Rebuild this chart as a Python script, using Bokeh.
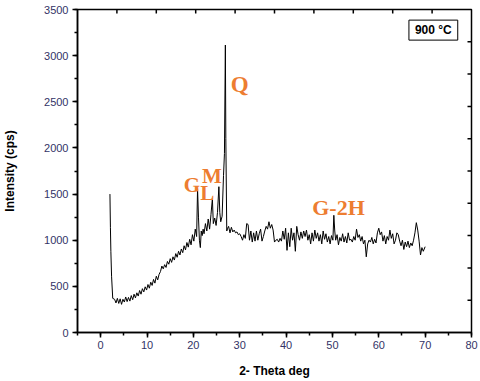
import math
from bokeh.plotting import figure
from bokeh.models import Range1d, SingleIntervalTicker, Label, ColumnDataSource
from bokeh.core.properties import value
from bokeh.embed import file_html
from bokeh.resources import INLINE

two_theta = [2.0, 2.1, 2.2, 2.35, 2.6,
    3.0, 3.3, 3.6, 3.9, 4.2, 4.5, 4.8, 5.1, 5.4, 5.7, 6.0, 6.3, 6.6, 6.9, 7.2, 7.5, 7.8, 8.1, 8.4, 8.7,
    9.0, 9.3, 9.6, 9.9, 10.2, 10.5, 10.8, 11.1, 11.4, 11.7, 12.0, 12.3, 12.6, 12.9, 13.2, 13.5, 13.8,
    14.1, 14.4, 14.7, 15.0, 15.3, 15.6, 15.9, 16.2, 16.5, 16.8, 17.1, 17.4, 17.7, 18.0, 18.3, 18.6,
    18.9, 19.2, 19.5, 19.8, 20.1, 20.4, 20.7, 20.9, 21.1, 21.3, 21.5, 21.7, 21.9, 22.1, 22.3, 22.6,
    22.9, 23.2, 23.5, 23.8, 24.1, 24.3, 24.6, 24.9, 25.2, 25.5, 25.7, 25.9, 26.2, 26.5, 26.7, 26.9,
    27.0, 27.2, 27.4, 27.6, 27.9, 28.2, 28.5, 28.8, 29.1, 29.4, 29.7, 30.0, 30.3, 30.6, 30.9, 31.2,
    31.5, 31.8, 32.1, 32.4, 32.7, 33.0, 33.3, 33.6, 33.9, 34.2, 34.5, 34.8, 35.1, 35.4, 35.7, 36.0,
    36.3, 36.6, 36.9, 37.2, 37.5, 37.8, 38.1, 38.4, 38.7, 39.0, 39.3, 39.6, 39.9, 40.2, 40.5, 40.8,
    41.1, 41.4, 41.7, 42.0, 42.3, 42.6, 42.9, 43.2, 43.5, 43.8, 44.1, 44.4, 44.7, 45.0, 45.3, 45.6,
    45.9, 46.2, 46.5, 46.8, 47.1, 47.4, 47.7, 48.0, 48.3, 48.6, 48.9, 49.2, 49.5, 49.8, 50.1, 50.3,
    50.5, 50.7, 51.0, 51.3, 51.6, 51.9, 52.2, 52.5, 52.8, 53.1, 53.4, 53.7, 54.0, 54.3, 54.6, 54.9,
    55.2, 55.5, 55.8, 56.1, 56.4, 56.7, 57.0, 57.3, 57.6, 57.9, 58.2, 58.5, 58.8, 59.1, 59.4, 59.7,
    60.0, 60.3, 60.6, 60.9, 61.2, 61.5, 61.8, 62.1, 62.4, 62.7, 63.0, 63.3, 63.6, 63.9, 64.2, 64.5,
    64.8, 65.1, 65.4, 65.7, 66.0, 66.3, 66.6, 66.9, 67.2, 67.5, 67.8, 68.1, 68.4, 68.7, 69.0, 69.3,
    69.6, 70.0]

intensity = [1500, 1140, 880, 610, 370,
    360, 320, 370, 315, 365, 305, 360, 330, 385, 335, 380, 340, 400, 355, 415, 375, 430, 395, 455, 415,
    475, 440, 495, 460, 520, 480, 545, 510, 575, 535, 610, 570, 630, 660, 720, 690, 735,
    705, 770, 740, 800, 760, 820, 785, 855, 815, 880, 840, 905, 865, 940, 895, 975,
    925, 1010, 950, 1060, 990, 1120, 1040, 1560, 1250, 1000, 920, 1100, 1050, 1120, 1070, 1180,
    1100, 1230, 1120, 1280, 1450, 1180, 1240, 1160, 1300, 1580, 1300, 1200, 1260, 1700, 1940, 3115,
    2100, 1100, 1130, 1150, 1080, 1140, 1090, 1110, 1080, 1090, 1060, 1070, 1040, 1000, 1060, 1020,
    1180, 1170, 1000, 1100, 980, 1080, 990, 1100, 1000, 1070, 1120, 990, 1040, 1100, 1150, 1120,
    1200, 1130, 1170, 1110, 980, 1000, 1010, 980, 1020, 990, 1100, 1010, 1130, 890, 1080, 930,
    1130, 1000, 1080, 880, 1150, 1060, 1000, 1090, 1020, 1100, 1040, 1110, 1000, 1060, 960, 1080,
    990, 1110, 1020, 1080, 990, 1060, 960, 1100, 1010, 1070, 980, 1040, 960, 1050, 1000, 1270,
    1100, 1000, 1060, 950, 1030, 990, 1070, 980, 1040, 970, 1080, 1000, 1010, 980, 1040, 1000,
    1120, 1030, 1060, 990, 1040, 960, 1000, 820, 960, 1000, 980, 1030, 960, 1010, 970, 1080,
    1130, 1060, 1090, 990, 1050, 960, 1040, 1000, 1110, 1020, 1070, 960, 1000, 1080, 1060, 990,
    940, 1000, 900, 980, 930, 990, 920, 970, 940, 1000, 1080, 1190, 1110, 990, 840, 920,
    880, 930]

peak_labels = ["Q", "G", "M", "L", "G-2H"]
peak_x = [30.0, 19.7, 24.0, 23.0, 51.3]
peak_y = [2690, 1595, 1700, 1510, 1356]
peak_sizes = ["23px", "21px", "21px", "21px", "22px"]

frame_ticks = [1, 2, 3, 4, 5, 6, 7, 8, 9]  # inner ticks of top/right frame (0-10 scale)

p = figure(width=480, height=381, x_range=Range1d(-5, 80), y_range=Range1d(0, 3500),
           output_backend="svg", toolbar_location=None,
           min_border_left=74, min_border_right=9, min_border_top=9, min_border_bottom=49)
p.grid.visible = False
p.outline_line_color = "black"
p.outline_line_width = 1.5
p.background_fill_color = "white"
p.border_fill_color = "white"

tick_color = "#333366"
for ax, tk in ((p.xaxis[0], SingleIntervalTicker(interval=10, num_minor_ticks=2)),
               (p.yaxis[0], SingleIntervalTicker(interval=500, num_minor_ticks=2))):
    ax.ticker = tk
    ax.axis_line_width = 1.5
    ax.major_tick_out = 5
    ax.major_tick_in = 0
    ax.minor_tick_out = 3
    ax.minor_tick_in = 0
    ax.major_tick_line_width = 1.5
    ax.minor_tick_line_width = 1.5
    ax.major_label_text_font = "Liberation Sans"
    ax.major_label_text_font_size = "11px"
    ax.major_label_text_color = tick_color
    ax.axis_label_text_font = "Liberation Sans"
    ax.axis_label_text_font_size = "12px"
    ax.axis_label_text_font_style = "bold"
    ax.axis_label_text_color = "black"

p.xaxis[0].axis_label = "2- Theta deg"
p.xaxis[0].major_label_standoff = 3
p.xaxis[0].axis_label_standoff = 12
p.yaxis[0].axis_label = "Intensity (cps)"
p.yaxis[0].major_label_standoff = 4
p.yaxis[0].axis_label_standoff = 24

p.extra_x_ranges = {"top": Range1d(0, 10)}
p.extra_y_ranges = {"right": Range1d(0, 10)}
p.ray(x=frame_ticks, y=3500, length=4, length_units="screen", angle=-math.pi / 2,
      x_range_name="top", line_color="black", line_width=1.5)
p.ray(x=80, y=frame_ticks, length=4, length_units="screen", angle=math.pi,
      y_range_name="right", line_color="black", line_width=1.5)

p.line(two_theta, intensity, line_color="black", line_width=1)

src = ColumnDataSource(dict(x=peak_x, y=peak_y, t=peak_labels, s=peak_sizes))
p.text(x="x", y="y", text="t", source=src, text_font=value("Liberation Serif"),
       text_font_style="bold", text_font_size="s", text_color="#ED7D31",
       text_align="center", text_baseline="middle")

box = Label(x=66.5, y=3385, text="900 °C", anchor="top_left",
            border_line_color="black", border_line_width=1,
            background_fill_color="white", padding=(6, 3),
            text_font="Liberation Sans", text_font_style="bold", text_font_size="12px",
            text_color="black")
p.add_layout(box)

open("out.html", "w").write(file_html(p, INLINE))
